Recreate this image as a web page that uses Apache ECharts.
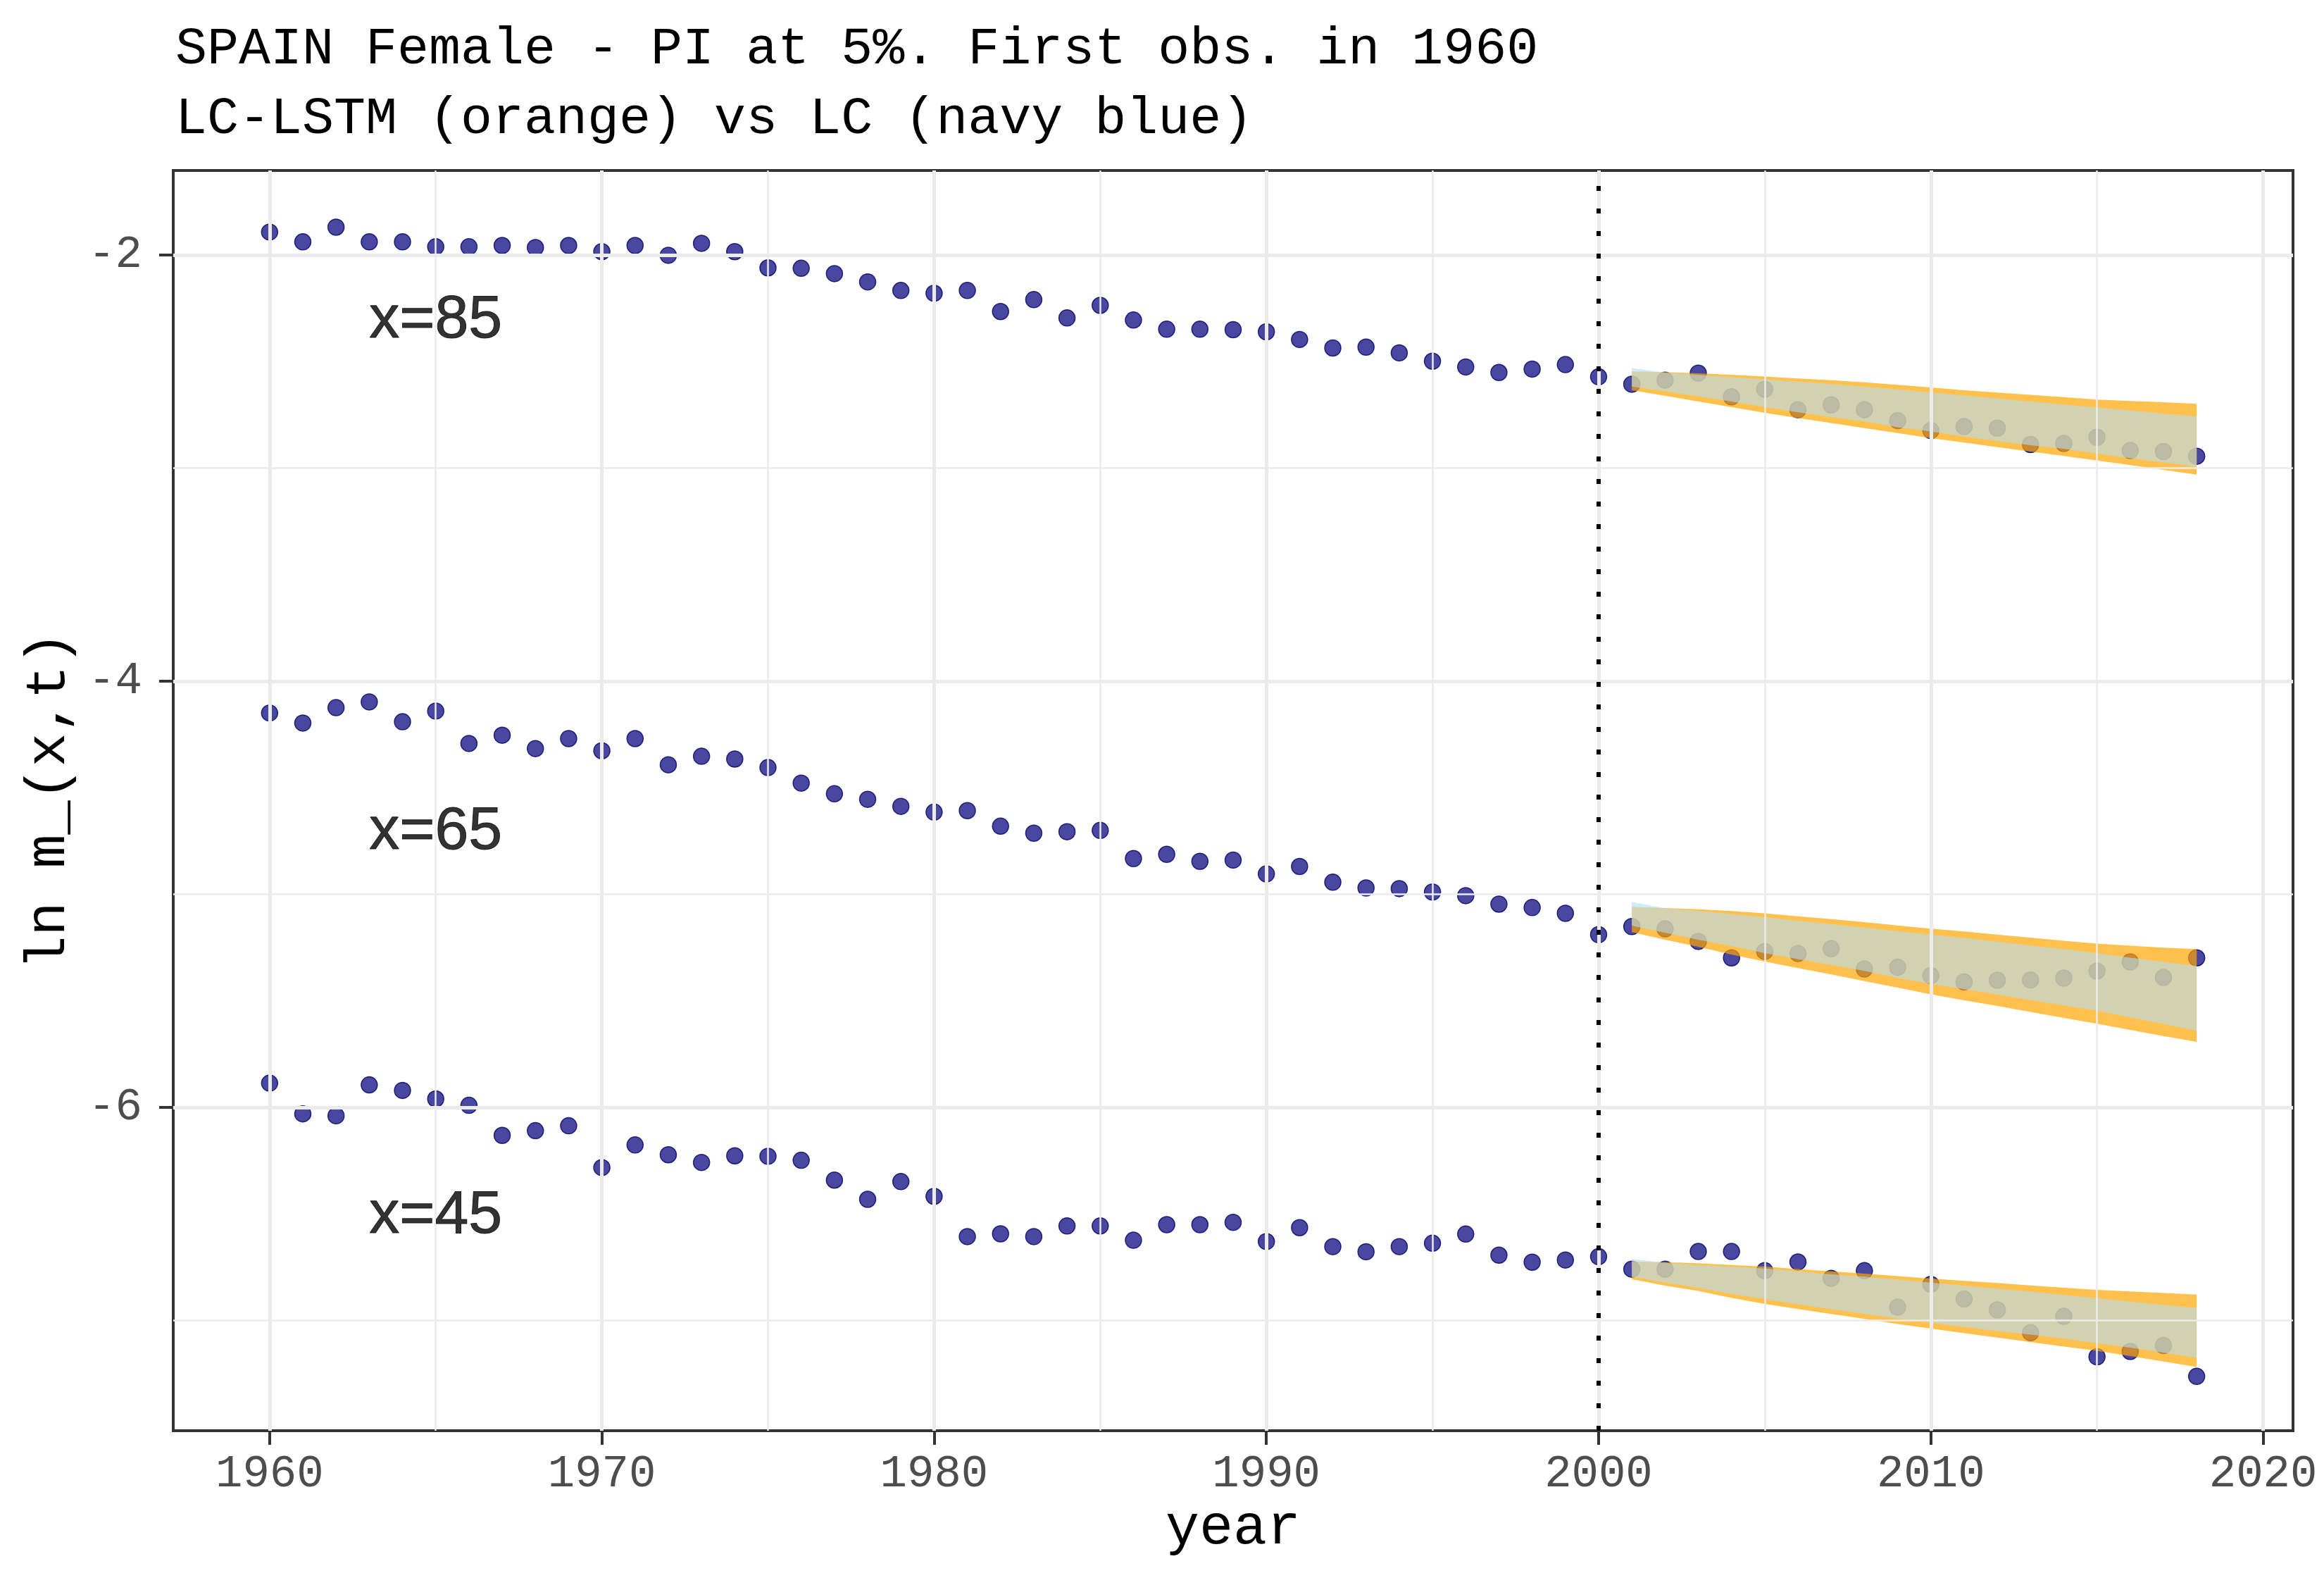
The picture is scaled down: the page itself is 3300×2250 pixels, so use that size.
<!DOCTYPE html>
<html>
<head>
<meta charset="utf-8">
<script src="https://cdn.jsdelivr.net/npm/echarts@6/dist/echarts.min.js"></script>
<style>
html,body{margin:0;padding:0;background:#fff;}
#chart{width:3300px;height:2250px;}
</style>
</head>
<body>
<div id="chart"></div>
<script>
// ---- data ----
var years = [1960,1961,1962,1963,1964,1965,1966,1967,1968,1969,
             1970,1971,1972,1973,1974,1975,1976,1977,1978,1979,
             1980,1981,1982,1983,1984,1985,1986,1987,1988,1989,
             1990,1991,1992,1993,1994,1995,1996,1997,1998,1999,
             2000,2001,2002,2003,2004,2005,2006,2007,2008,2009,
             2010,2011,2012,2013,2014,2015,2016,2017,2018];

var obs85 = [-1.893,-1.939,-1.870,-1.939,-1.939,-1.962,-1.962,-1.956,-1.966,-1.956,
             -1.985,-1.956,-2.002,-1.946,-1.985,-2.061,-2.063,-2.088,-2.127,-2.167,
             -2.180,-2.167,-2.266,-2.210,-2.296,-2.237,-2.306,-2.349,-2.349,-2.351,
             -2.361,-2.397,-2.437,-2.433,-2.460,-2.499,-2.526,-2.552,-2.536,-2.515,
             -2.572,-2.607,-2.588,-2.555,-2.666,-2.631,-2.727,-2.704,-2.727,-2.778,
             -2.824,-2.806,-2.813,-2.890,-2.885,-2.856,-2.918,-2.923,-2.945];

var obs65 = [-4.150,-4.197,-4.125,-4.098,-4.191,-4.141,-4.293,-4.254,-4.317,-4.270,
             -4.327,-4.270,-4.393,-4.353,-4.366,-4.406,-4.479,-4.529,-4.555,-4.588,
             -4.615,-4.608,-4.681,-4.714,-4.707,-4.701,-4.833,-4.813,-4.846,-4.840,
             -4.905,-4.870,-4.944,-4.971,-4.974,-4.990,-5.007,-5.047,-5.063,-5.090,
             -5.190,-5.152,-5.163,-5.222,-5.299,-5.269,-5.279,-5.256,-5.351,-5.343,
             -5.382,-5.412,-5.404,-5.403,-5.394,-5.361,-5.318,-5.391,-5.299];

var obs45 = [-5.887,-6.031,-6.040,-5.895,-5.921,-5.961,-5.991,-6.132,-6.110,-6.087,
             -6.283,-6.177,-6.223,-6.259,-6.228,-6.230,-6.249,-6.342,-6.432,-6.349,
             -6.418,-6.607,-6.594,-6.607,-6.557,-6.557,-6.624,-6.551,-6.551,-6.540,
             -6.630,-6.565,-6.654,-6.678,-6.654,-6.638,-6.595,-6.694,-6.727,-6.717,
             -6.701,-6.760,-6.760,-6.677,-6.677,-6.767,-6.726,-6.803,-6.767,-6.938,
             -6.831,-6.900,-6.951,-7.058,-6.981,-7.171,-7.146,-7.118,-7.263];

var fcYears = [2001,2002,2003,2004,2005,2006,2007,2008,2009,2010,2011,2012,2013,2014,2015,2016,2017,2018];

// LC-LSTM (orange) prediction intervals
var lstm85Lo = [-2.635,-2.661,-2.688,-2.715,-2.741,-2.766,-2.789,-2.813,-2.836,-2.860,-2.881,-2.902,-2.923,-2.944,-2.965,-2.987,-3.009,-3.031];
var lstm85Hi = [-2.547,-2.550,-2.556,-2.563,-2.571,-2.580,-2.588,-2.598,-2.610,-2.622,-2.635,-2.646,-2.657,-2.668,-2.679,-2.686,-2.692,-2.699];
var lstm65Lo = [-5.178,-5.214,-5.247,-5.283,-5.316,-5.347,-5.377,-5.408,-5.439,-5.470,-5.498,-5.525,-5.553,-5.581,-5.608,-5.637,-5.666,-5.693];
var lstm65Hi = [-5.059,-5.065,-5.071,-5.079,-5.090,-5.104,-5.117,-5.131,-5.147,-5.162,-5.175,-5.190,-5.204,-5.219,-5.232,-5.242,-5.251,-5.258];
var lstm45Lo = [-6.807,-6.837,-6.862,-6.895,-6.923,-6.947,-6.970,-6.993,-7.017,-7.039,-7.060,-7.081,-7.102,-7.123,-7.143,-7.168,-7.193,-7.219];
var lstm45Hi = [-6.724,-6.727,-6.732,-6.740,-6.748,-6.759,-6.770,-6.781,-6.792,-6.804,-6.815,-6.825,-6.836,-6.847,-6.857,-6.864,-6.872,-6.879];

// LC (light blue) prediction intervals
var lc85Lo = [-2.618,-2.640,-2.664,-2.688,-2.714,-2.739,-2.761,-2.782,-2.809,-2.829,-2.853,-2.873,-2.893,-2.910,-2.932,-2.954,-2.974,-2.995];
var lc85Hi = [-2.531,-2.553,-2.563,-2.574,-2.583,-2.595,-2.606,-2.618,-2.631,-2.646,-2.659,-2.673,-2.688,-2.702,-2.716,-2.730,-2.745,-2.758];
var lc65Lo = [-5.148,-5.181,-5.214,-5.244,-5.277,-5.305,-5.332,-5.360,-5.393,-5.421,-5.446,-5.471,-5.497,-5.522,-5.547,-5.578,-5.609,-5.641];
var lc65Hi = [-5.036,-5.067,-5.078,-5.093,-5.108,-5.125,-5.140,-5.157,-5.173,-5.190,-5.206,-5.223,-5.241,-5.258,-5.277,-5.298,-5.317,-5.336];
var lc45Lo = [-6.796,-6.823,-6.848,-6.876,-6.901,-6.925,-6.948,-6.970,-6.991,-7.011,-7.031,-7.050,-7.067,-7.086,-7.107,-7.128,-7.152,-7.177];
var lc45Hi = [-6.711,-6.730,-6.741,-6.748,-6.757,-6.770,-6.784,-6.795,-6.809,-6.823,-6.837,-6.851,-6.865,-6.881,-6.896,-6.912,-6.927,-6.941];

var xMajor = [1960,1970,1980,1990,2000,2010,2020];
var xMinor = [1965,1975,1985,1995,2005,2015];
var yMajor = [-2,-4,-6];
var yMinor = [-3,-5,-7];

var ageLabels = ['x=85','x=65','x=45'];
var ageLabelX = [1965,1965,1965];
var ageLabelY = [-2.31,-4.71,-6.51];

var cutYear = 2000;

// ---- build ----
var MONO = 'Liberation Mono';

function pairs(xs, ys){ return xs.map(function(x,i){ return [x, ys[i]]; }); }

function bandSeries(name, lo, hi, fill, z){
  return {
    type: 'custom', name: name, z: z, silent: true,
    coordinateSystem: 'cartesian2d',
    data: fcYears.map(function(y,i){ return [y, lo[i], hi[i]]; }),
    encode: {x: 0, y: [1,2]},
    renderItem: function(params, api){
      if (params.dataIndex !== 0) return null;
      var pts = [];
      for (var i = 0; i < fcYears.length; i++) pts.push(api.coord([fcYears[i], hi[i]]));
      for (var j = fcYears.length - 1; j >= 0; j--) pts.push(api.coord([fcYears[j], lo[j]]));
      return {type: 'polygon', shape: {points: pts}, style: {fill: fill, stroke: null}};
    }
  };
}

function gridLines(vals, axis, width){
  return vals.map(function(v){ var o = {}; o[axis] = v; o.lineStyle = {width: width}; return o; });
}

var pointStyle = {color: '#1a1a88', borderColor: '#000066', borderWidth: 1.5};

var option = {
  animation: false,
  backgroundColor: '#ffffff',
  title: {
    text: 'SPAIN Female - PI at 5%. First obs. in 1960\nLC-LSTM (orange) vs LC (navy blue)',
    left: 244, top: 16,
    textStyle: {fontFamily: MONO, fontWeight: 'normal', fontSize: 75, lineHeight: 99, color: '#000'}
  },
  grid: {
    left: 246, right: 44, top: 242, bottom: 219,
    outerBoundsMode: 'none', containLabel: false,
    show: true, borderColor: '#333333', borderWidth: 4, backgroundColor: '#ffffff'
  },
  xAxis: {
    type: 'value', min: 1957.1, max: 2020.9,
    name: 'year', nameLocation: 'middle', nameGap: 95,
    nameTextStyle: {fontFamily: MONO, fontSize: 80, color: '#000'},
    axisLine: {show: false},
    axisTick: {show: true, length: 20, customValues: xMajor, lineStyle: {color: '#333333', width: 4}},
    axisLabel: {customValues: xMajor, margin: 30, fontFamily: MONO, fontSize: 64, color: '#4d4d4d',
                formatter: function(v){ return String(v); }},
    splitLine: {show: false}
  },
  yAxis: {
    type: 'value', min: -7.518, max: -1.604,
    name: 'ln m_(x,t)', nameLocation: 'middle', nameGap: 136, nameRotate: 90,
    nameTextStyle: {fontFamily: MONO, fontSize: 80, color: '#000'},
    axisLine: {show: false},
    axisTick: {show: true, length: 20, customValues: yMajor, lineStyle: {color: '#333333', width: 4}},
    axisLabel: {customValues: yMajor, margin: 44, fontFamily: MONO, fontSize: 64, color: '#4d4d4d',
                formatter: function(v){ return String(v); }},
    splitLine: {show: false}
  },
  series: [
    {
      type: 'line', data: [], z: 1, silent: true,
      markLine: {
        silent: true, symbol: 'none', label: {show: false}, animation: false,
        lineStyle: {color: '#ebebeb', type: 'solid'},
        data: [].concat(gridLines(xMinor, 'xAxis', 2.5), gridLines(yMinor, 'yAxis', 2.5),
                        gridLines(xMajor, 'xAxis', 5), gridLines(yMajor, 'yAxis', 5))
      }
    },
    {type: 'scatter', z: 2, symbolSize: 23, itemStyle: pointStyle, data: pairs(years, obs85), silent: true},
    {type: 'scatter', z: 2, symbolSize: 23, itemStyle: pointStyle, data: pairs(years, obs65), silent: true},
    {type: 'scatter', z: 2, symbolSize: 23, itemStyle: pointStyle, data: pairs(years, obs45), silent: true},
    bandSeries('LC-LSTM 85', lstm85Lo, lstm85Hi, 'rgba(255,165,0,0.7)', 3),
    bandSeries('LC-LSTM 65', lstm65Lo, lstm65Hi, 'rgba(255,165,0,0.7)', 3),
    bandSeries('LC-LSTM 45', lstm45Lo, lstm45Hi, 'rgba(255,165,0,0.7)', 3),
    bandSeries('LC 85', lc85Lo, lc85Hi, 'rgba(180,222,245,0.6)', 4),
    bandSeries('LC 65', lc65Lo, lc65Hi, 'rgba(180,222,245,0.6)', 4),
    bandSeries('LC 45', lc45Lo, lc45Hi, 'rgba(180,222,245,0.6)', 4),
    {
      type: 'line', data: [], z: 5, silent: true,
      markLine: {
        silent: true, symbol: 'none', label: {show: false}, animation: false,
        lineStyle: {color: '#000', width: 6, type: [7, 25], cap: 'butt'},
        data: [{xAxis: cutYear}]
      }
    },
    {
      type: 'scatter', z: 6, symbolSize: 1, itemStyle: {color: 'rgba(0,0,0,0)'}, silent: true,
      data: ageLabels.map(function(t,i){ return [ageLabelX[i], ageLabelY[i], t]; }),
      label: {
        show: true, position: 'inside',
        formatter: function(p){ return p.data[2]; },
        fontFamily: 'Liberation Sans', fontSize: 86, color: '#000',
        textBorderColor: '#000', textBorderWidth: 1
      },
      labelLayout: {hideOverlap: false}
    }
  ]
};

var chart = echarts.init(document.getElementById('chart'), null, {renderer: 'canvas'});
chart.setOption(option);
</script>
</body>
</html>
